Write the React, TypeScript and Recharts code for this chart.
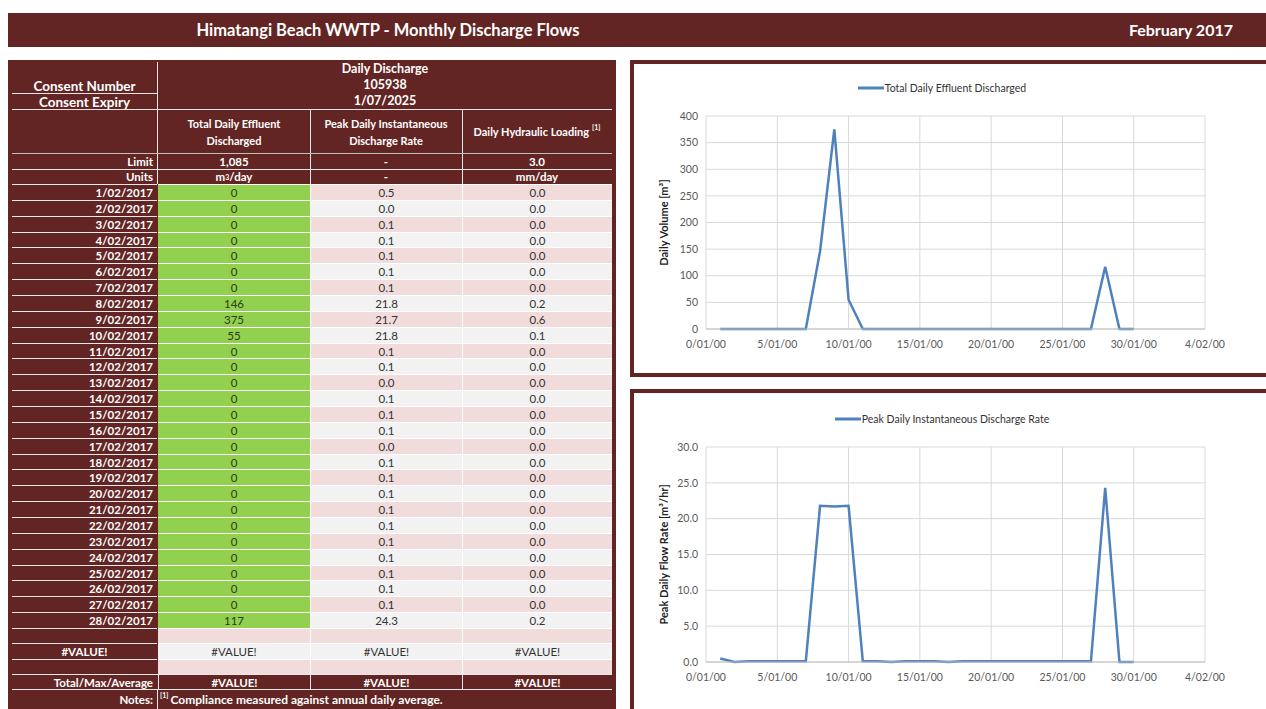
import React from 'react';
import { LineChart, Line, XAxis, YAxis, CartesianGrid, Legend } from 'recharts';

// Daily readings for February 2017
const dates = [
    '1/02/2017', '2/02/2017', '3/02/2017', '4/02/2017', '5/02/2017', '6/02/2017', '7/02/2017',
    '8/02/2017', '9/02/2017', '10/02/2017', '11/02/2017', '12/02/2017', '13/02/2017', '14/02/2017',
    '15/02/2017', '16/02/2017', '17/02/2017', '18/02/2017', '19/02/2017', '20/02/2017', '21/02/2017',
    '22/02/2017', '23/02/2017', '24/02/2017', '25/02/2017', '26/02/2017', '27/02/2017', '28/02/2017',
];
const totalDischarged = [0, 0, 0, 0, 0, 0, 0, 146, 375, 55, 0, 0, 0, 0, 0, 0, 0, 0, 0, 0, 0, 0, 0, 0, 0, 0, 0, 117];
const peakRate = [0.5, 0.0, 0.1, 0.1, 0.1, 0.1, 0.1, 21.8, 21.7, 21.8, 0.1, 0.1, 0.0, 0.1, 0.1, 0.1, 0.0, 0.1, 0.1, 0.1, 0.1, 0.1, 0.1, 0.1, 0.1, 0.1, 0.1, 24.3];
const hydraulicLoading = [0.0, 0.0, 0.0, 0.0, 0.0, 0.0, 0.0, 0.2, 0.6, 0.1, 0.0, 0.0, 0.0, 0.0, 0.0, 0.0, 0.0, 0.0, 0.0, 0.0, 0.0, 0.0, 0.0, 0.0, 0.0, 0.0, 0.0, 0.2];

// the charts run two days past the end of the month
const chartDays = [1, 2, 3, 4, 5, 6, 7, 8, 9, 10, 11, 12, 13, 14, 15, 16, 17, 18, 19, 20, 21, 22, 23, 24, 25, 26, 27, 28, 29, 30];
const volumeTail = [0, 0];
const rateTail = [0.0, 0.0];

const xTicks = [0, 5, 10, 15, 20, 25, 30, 35];
const xTickLabels = ['0/01/00', '5/01/00', '10/01/00', '15/01/00', '20/01/00', '25/01/00', '30/01/00', '4/02/00'];
const volumeTicks = [0, 50, 100, 150, 200, 250, 300, 350, 400];
const rateTicks = [0, 5, 10, 15, 20, 25, 30];

const DARK = '#632523';
const GREEN = '#92d050';
const PINK = '#f2dcdb';
const GREY = '#f2f2f2';
const LINE = '#4f81bd';
const FONT = 'Lato, "Noto Sans", sans-serif';

const volumeData = chartDays.map((day, i) => ({ day, value: [...totalDischarged, ...volumeTail][i] }));
const rateData = chartDays.map((day, i) => ({ day, value: [...peakRate, ...rateTail][i] }));

const cols: [number, number][] = [[158, 310], [310, 462], [462, 612]];

const Cell = ({ x, y, w, h, bg, children, style }: any) => (
    <div
        style={{
            position: 'absolute', left: x, top: y, width: w, height: h, background: bg,
            display: 'flex', alignItems: 'center', justifyContent: 'center', boxSizing: 'border-box',
            whiteSpace: 'nowrap', ...style,
        }}
    >
        {children}
    </div>
);

const HLine = ({ x0, x1, y, color = '#e8e8e8' }: any) => (
    <div style={{ position: 'absolute', left: x0, top: y, width: x1 - x0, height: 1, background: color }} />
);

const VLine = ({ x, y0, y1, color = '#e8e8e8' }: any) => (
    <div style={{ position: 'absolute', left: x, top: y0, width: 1, height: y1 - y0, background: color }} />
);

const white = { color: '#fff', fontWeight: 700 };
const label = { ...white, fontSize: 11.5, justifyContent: 'flex-end', paddingRight: 4 };
const value = { color: '#333', fontSize: 11.5 };
const heading = { ...white, fontSize: 11, flexDirection: 'column', lineHeight: '17px' };

const DischargeTable = () => {
    const rowTop = (i: number) => Math.round(184 + i * 15.857);
    return (
        <div style={{ position: 'absolute', left: 8, top: 60, width: 608, height: 649, background: DARK }}>
            <div style={{ position: 'absolute', left: -8, top: -60 }}>
                {/* consent block */}
                <Cell x={12} y={78} w={145} h={15} style={{ ...white, fontSize: 13.5 }}>Consent Number</Cell>
                <HLine x0={12} x1={157} y={93} />
                <Cell x={12} y={94} w={145} h={15} style={{ ...white, fontSize: 13.5 }}>Consent Expiry</Cell>
                <HLine x0={12} x1={612} y={109} />
                <Cell x={158} y={60} w={454} h={16} style={{ ...white, fontSize: 12.5 }}>Daily Discharge</Cell>
                <Cell x={158} y={76} w={454} h={16} style={{ ...white, fontSize: 12.5 }}>105938</Cell>
                <Cell x={158} y={92} w={454} h={16} style={{ ...white, fontSize: 12.5 }}>1/07/2025</Cell>
                <VLine x={157} y0={62} y1={184} />

                {/* column headings */}
                <Cell x={158} y={110} w={152} h={43} style={heading}>
                    <span>Total Daily Effluent</span><span>Discharged</span>
                </Cell>
                <Cell x={310} y={110} w={152} h={43} style={heading}>
                    <span>Peak Daily Instantaneous</span><span>Discharge Rate</span>
                </Cell>
                <Cell x={462} y={110} w={150} h={43} style={{ ...white, fontSize: 11 }}>
                    Daily Hydraulic Loading <sup style={{ fontSize: 7, marginLeft: 3, alignSelf: 'flex-start', marginTop: 13 }}>[1]</sup>
                </Cell>
                <VLine x={310} y0={109} y1={184} />
                <VLine x={462} y0={109} y1={184} />
                <HLine x0={12} x1={612} y={153} color="#bfbfbf" />

                <Cell x={12} y={154} w={145} h={15} style={label}>Limit</Cell>
                <Cell x={158} y={154} w={152} h={15} style={{ ...white, fontSize: 11.5 }}>1,085</Cell>
                <Cell x={310} y={154} w={152} h={15} style={{ ...white, fontSize: 11.5 }}>-</Cell>
                <Cell x={462} y={154} w={150} h={15} style={{ ...white, fontSize: 11.5 }}>3.0</Cell>
                <HLine x0={12} x1={612} y={169} />

                <Cell x={12} y={169} w={145} h={15} style={label}>Units</Cell>
                <Cell x={158} y={169} w={152} h={15} style={{ ...white, fontSize: 11.5 }}>m<sup style={{ fontSize: 7 }}>3</sup>/day</Cell>
                <Cell x={310} y={169} w={152} h={15} style={{ ...white, fontSize: 11.5 }}>-</Cell>
                <Cell x={462} y={169} w={150} h={15} style={{ ...white, fontSize: 11.5 }}>mm/day</Cell>

                {/* daily rows */}
                {dates.map((d, i) => {
                    const y = rowTop(i);
                    const h = rowTop(i + 1) - y;
                    const bg = i % 2 === 0 ? PINK : GREY;
                    return (
                        <React.Fragment key={d}>
                            <Cell x={12} y={y} w={145} h={h} style={{ ...label, borderTop: '1px solid #e8e8e8' }}>{d}</Cell>
                            <Cell x={158} y={y} w={152} h={h} bg={GREEN} style={{ ...value, color: '#2a3d12', borderTop: '1px solid #fff' }}>
                                {totalDischarged[i]}
                            </Cell>
                            <Cell x={310} y={y} w={152} h={h} bg={bg} style={{ ...value, borderTop: '1px solid #fff', borderLeft: '1px solid #fff' }}>
                                {peakRate[i].toFixed(1)}
                            </Cell>
                            <Cell x={462} y={y} w={150} h={h} bg={bg} style={{ ...value, borderTop: '1px solid #fff', borderLeft: '1px solid #fff' }}>
                                {hydraulicLoading[i].toFixed(1)}
                            </Cell>
                        </React.Fragment>
                    );
                })}

                {/* summary rows */}
                {[
                    { y: 628, h: 15, bg: PINK, text: '', left: '' },
                    { y: 643, h: 16, bg: GREY, text: '#VALUE!', left: '#VALUE!' },
                    { y: 659, h: 15, bg: PINK, text: '', left: '' },
                ].map((r) => (
                    <React.Fragment key={r.y}>
                        <Cell x={12} y={r.y} w={145} h={r.h} style={{ ...white, fontSize: 11.5, borderTop: '1px solid #e8e8e8' }}>{r.left}</Cell>
                        {cols.map(([a, b], j) => (
                            <Cell key={j} x={a} y={r.y} w={b - a} h={r.h} bg={r.bg} style={{ ...value, borderTop: '1px solid #fff', borderLeft: j ? '1px solid #fff' : 'none' }}>
                                {r.text}
                            </Cell>
                        ))}
                    </React.Fragment>
                ))}
                <HLine x0={12} x1={612} y={674} />
                <Cell x={12} y={675} w={145} h={14} style={label}>Total/Max/Average</Cell>
                {cols.map(([a, b], j) => (
                    <Cell key={j} x={a} y={675} w={b - a} h={14} style={{ ...white, fontSize: 11.5, borderLeft: '1px solid #e8e8e8' }}>#VALUE!</Cell>
                ))}
                <HLine x0={12} x1={612} y={689} />
                <VLine x={157} y0={689} y1={709} />
                <Cell x={12} y={690} w={145} h={19} style={label}>Notes:</Cell>
                <Cell x={160} y={690} w={450} h={19} style={{ ...white, fontSize: 12, justifyContent: 'flex-start' }}>
                    <sup style={{ fontSize: 7, marginRight: 2, alignSelf: 'flex-start', marginTop: 1 }}>[1]</sup>
                    Compliance measured against annual daily average.
                </Cell>
            </div>
        </div>
    );
};

const legendContent = (name: string) => () => (
    <div style={{ display: 'flex', alignItems: 'center', justifyContent: 'center', fontFamily: FONT, fontSize: 10.5, color: '#333' }}>
        <svg width={26} height={6}>
            <line x1={0} y1={3} x2={26} y2={3} stroke={LINE} strokeWidth={3} />
        </svg>
        <span style={{ marginLeft: 1 }}>{name}</span>
    </div>
);

const axisLabel = (text: string) => ({ viewBox }: any) => {
    const x = viewBox.x + 33;
    const y = viewBox.y + viewBox.height / 2;
    return (
        <text x={x} y={y} transform={`rotate(-90 ${x} ${y})`} textAnchor="middle" dominantBaseline="middle"
            fontFamily={FONT} fontSize={11} fontWeight={700} fill="#222">
            {text}
        </text>
    );
};

const tick = { fill: '#595959', fontSize: 10.5, fontFamily: FONT };

const DischargeChart = ({ data, ticks, name, yLabel, fmt, top, height, marginBottom }: any) => (
    <div style={{ position: 'absolute', left: 632, top }}>
        <LineChart width={620} height={height} data={data} margin={{ top: 54, right: 47, bottom: marginBottom, left: 0 }}>
            <CartesianGrid stroke="#d9d9d9" />
            <XAxis
                dataKey="day"
                type="number"
                domain={[0, 35]}
                ticks={xTicks}
                interval={0}
                tickFormatter={(v) => xTickLabels[xTicks.indexOf(v)]}
                tick={tick}
                tickLine={false}
                tickMargin={6}
                height={25}
                stroke="#bfbfbf"
            />
            <YAxis
                type="number"
                domain={[ticks[0], ticks[ticks.length - 1]]}
                ticks={ticks}
                interval={0}
                tickFormatter={fmt}
                tick={tick}
                axisLine={false}
                tickLine={false}
                width={74}
                label={axisLabel(yLabel)}
            />
            <Legend
                verticalAlign="middle"
                align="center"
                layout="horizontal"
                wrapperStyle={{ top: 20, left: 0, width: 620 }}
                content={legendContent(name)}
            />
            <Line type="linear" dataKey="value" name={name} stroke={LINE} strokeWidth={2.5} dot={false} isAnimationActive={false} />
        </LineChart>
    </div>
);

export default function App() {
    return (
        <div style={{ position: 'absolute', left: 0, top: 0, width: 1266, height: 709, overflow: 'hidden', fontFamily: FONT, background: '#fff' }}>
            {/* report banner */}
            <div style={{ position: 'absolute', left: 8, top: 13, width: 1270, height: 34, background: DARK }}>
                <div style={{ position: 'absolute', left: 0, width: 760, top: 0, height: 34, lineHeight: '34px', textAlign: 'center', color: '#fff', fontWeight: 700, fontSize: 16.5 }}>
                    Himatangi Beach WWTP - Monthly Discharge Flows
                </div>
                <div style={{ position: 'absolute', left: 1100, width: 125, top: 0, height: 34, lineHeight: '34px', textAlign: 'right', color: '#fff', fontWeight: 700, fontSize: 16 }}>
                    February 2017
                </div>
            </div>

            <DischargeTable />

            <div style={{ position: 'absolute', left: 630, top: 60, width: 650, height: 317, border: `4px solid ${DARK}`, boxSizing: 'border-box' }} />
            <div style={{ position: 'absolute', left: 630, top: 389, width: 650, height: 340, border: `4px solid ${DARK}`, boxSizing: 'border-box' }} />

            <DischargeChart
                data={volumeData}
                ticks={volumeTicks}
                name="Total Daily Effluent Discharged"
                yLabel="Daily Volume [m³]"
                fmt={(v: number) => String(v)}
                top={62}
                height={315}
                marginBottom={23}
            />
            <DischargeChart
                data={rateData}
                ticks={rateTicks}
                name="Peak Daily Instantaneous Discharge Rate"
                yLabel="Peak Daily Flow Rate [m³/hr]"
                fmt={(v: number) => v.toFixed(1)}
                top={393}
                height={316}
                marginBottom={22}
            />
        </div>
    );
}
